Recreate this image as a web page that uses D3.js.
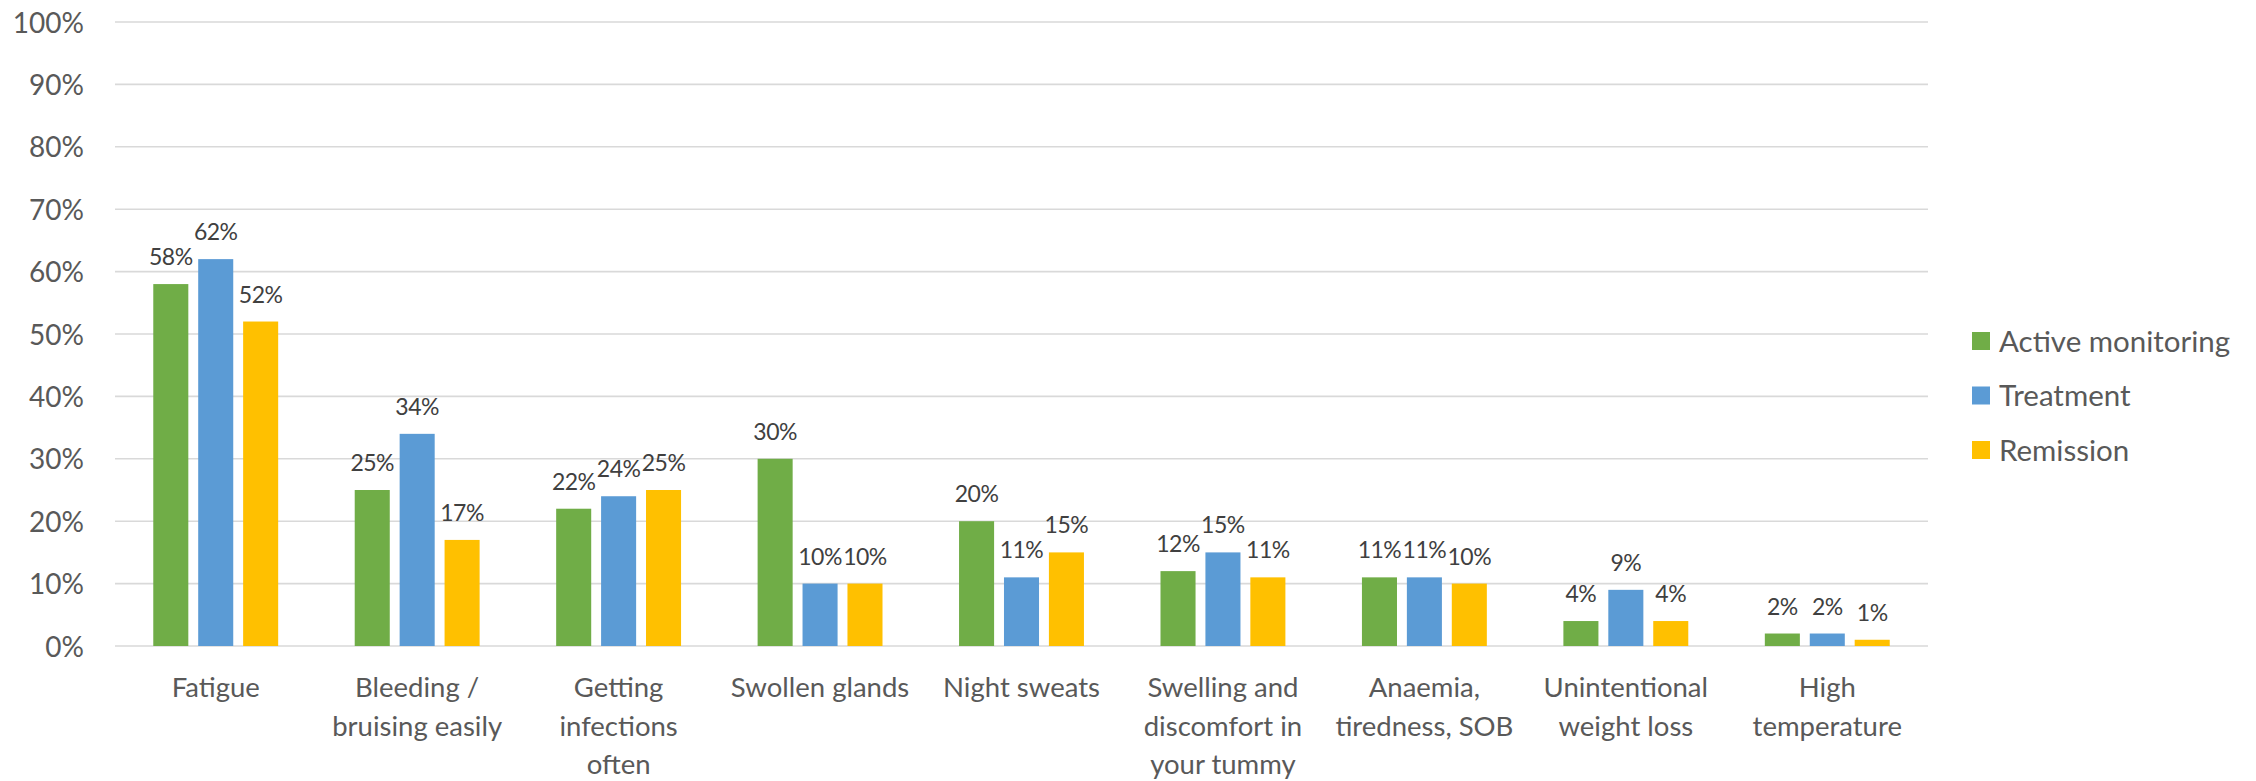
<!DOCTYPE html>
<html>
<head>
<meta charset="utf-8">
<script src="https://cdn.jsdelivr.net/npm/d3@7"></script>
<style>
  html, body { margin: 0; padding: 0; background: #ffffff; }
  svg { display: block; font-family: Lato, "Open Sans", sans-serif; }
</style>
</head>
<body>
<svg id="chart" width="2256" height="781"></svg>
<script>
// Symptom categories (line breaks mark where each axis label wraps)
const categories = [
  "Fatigue",
  "Bleeding /\nbruising easily",
  "Getting\ninfections\noften",
  "Swollen glands",
  "Night sweats",
  "Swelling and\ndiscomfort in\nyour tummy",
  "Anaemia,\ntiredness, SOB",
  "Unintentional\nweight loss",
  "High\ntemperature"
];

const seriesNames = ["Active monitoring", "Treatment", "Remission"];
const seriesColors = ["#70AD47", "#5B9BD5", "#FFC000"];

// Share of respondents reporting each symptom (%)
const activeMonitoring = [58, 25, 22, 30, 20, 12, 11, 4, 2];
const treatment        = [62, 34, 24, 10, 11, 15, 11, 9, 2];
const remission        = [52, 17, 25, 10, 15, 11, 10, 4, 1];

const yTicks = [0, 10, 20, 30, 40, 50, 60, 70, 80, 90, 100];

const seriesValues = [activeMonitoring, treatment, remission];

const svg = d3.select("#chart");

const plot = { left: 115, right: 1928, top: 22, bottom: 646 };

const x = d3.scaleBand()
  .domain(categories)
  .range([plot.left, plot.right])
  .paddingInner(0)
  .paddingOuter(0);

// Bars inside each category: three bars with small gaps, centred in the band
const groupWidth = x.bandwidth() * 0.62;
const xInner = d3.scaleBand()
  .domain(seriesNames)
  .range([0, groupWidth])
  .paddingInner(0.22)
  .paddingOuter(0);

const y = d3.scaleLinear().domain([0, 100]).range([plot.bottom, plot.top]);

// Gridlines
svg.append("g")
  .selectAll("line")
  .data(yTicks)
  .join("line")
  .attr("x1", plot.left)
  .attr("x2", plot.right)
  .attr("y1", d => y(d))
  .attr("y2", d => y(d))
  .attr("stroke", "#d9d9d9")
  .attr("stroke-width", 1.6);

// Y axis labels
const yAxis = d3.axisLeft(y)
  .tickValues(yTicks)
  .tickSize(0)
  .tickPadding(0)
  .tickFormat(d => d + "%");

svg.append("g")
  .attr("transform", `translate(${plot.left - 31},0)`)
  .call(yAxis)
  .call(g => g.select(".domain").remove())
  .call(g => g.selectAll("text")
    .attr("fill", "#595959")
    .attr("font-size", 28)
    .attr("font-family", "Lato, 'Open Sans', sans-serif")
    .attr("dy", "0.36em"));

// Bars
const groups = svg.append("g")
  .selectAll("g")
  .data(categories)
  .join("g")
  .attr("transform", d => `translate(${x(d) + (x.bandwidth() - groupWidth) / 2},0)`);

groups.selectAll("rect")
  .data((d, i) => seriesNames.map((s, k) => ({ series: s, k, value: seriesValues[k][i] })))
  .join("rect")
  .attr("x", d => xInner(d.series))
  .attr("width", xInner.bandwidth())
  .attr("y", d => y(d.value))
  .attr("height", d => y(0) - y(d.value))
  .attr("fill", d => seriesColors[d.k]);

// Value labels above each bar
groups.selectAll("text.value")
  .data((d, i) => seriesNames.map((s, k) => ({ series: s, k, value: seriesValues[k][i] })))
  .join("text")
  .attr("class", "value")
  .attr("x", d => xInner(d.series) + xInner.bandwidth() / 2)
  .attr("y", d => y(d.value) - 19)
  .attr("text-anchor", "middle")
  .attr("fill", "#404040")
  .attr("font-size", 23)
  .attr("letter-spacing", -0.5)
  .text(d => d.value + "%");

// Category labels (wrapped onto several lines)
const xAxis = svg.append("g");
xAxis.selectAll("text")
  .data(categories)
  .join("text")
  .attr("x", d => x(d) + x.bandwidth() / 2)
  .attr("y", 697)
  .attr("text-anchor", "middle")
  .attr("fill", "#595959")
  .attr("font-size", 27.5)
  .each(function(d) {
    const lines = d.split("\n");
    d3.select(this).selectAll("tspan")
      .data(lines)
      .join("tspan")
      .attr("x", x(d) + x.bandwidth() / 2)
      .attr("dy", (l, i) => i === 0 ? 0 : 38.5)
      .text(l => l);
  });

// Legend
const legend = svg.append("g")
  .selectAll("g")
  .data(seriesNames)
  .join("g")
  .attr("transform", (d, i) => `translate(1972,${341 + i * 54.5})`);

legend.append("rect")
  .attr("x", 0)
  .attr("y", -9)
  .attr("width", 18)
  .attr("height", 18)
  .attr("fill", (d, i) => seriesColors[i]);

legend.append("text")
  .attr("x", 27)
  .attr("y", 0)
  .attr("dy", "0.36em")
  .attr("fill", "#595959")
  .attr("font-size", 29.5)
  .text(d => d);
</script>
</body>
</html>
